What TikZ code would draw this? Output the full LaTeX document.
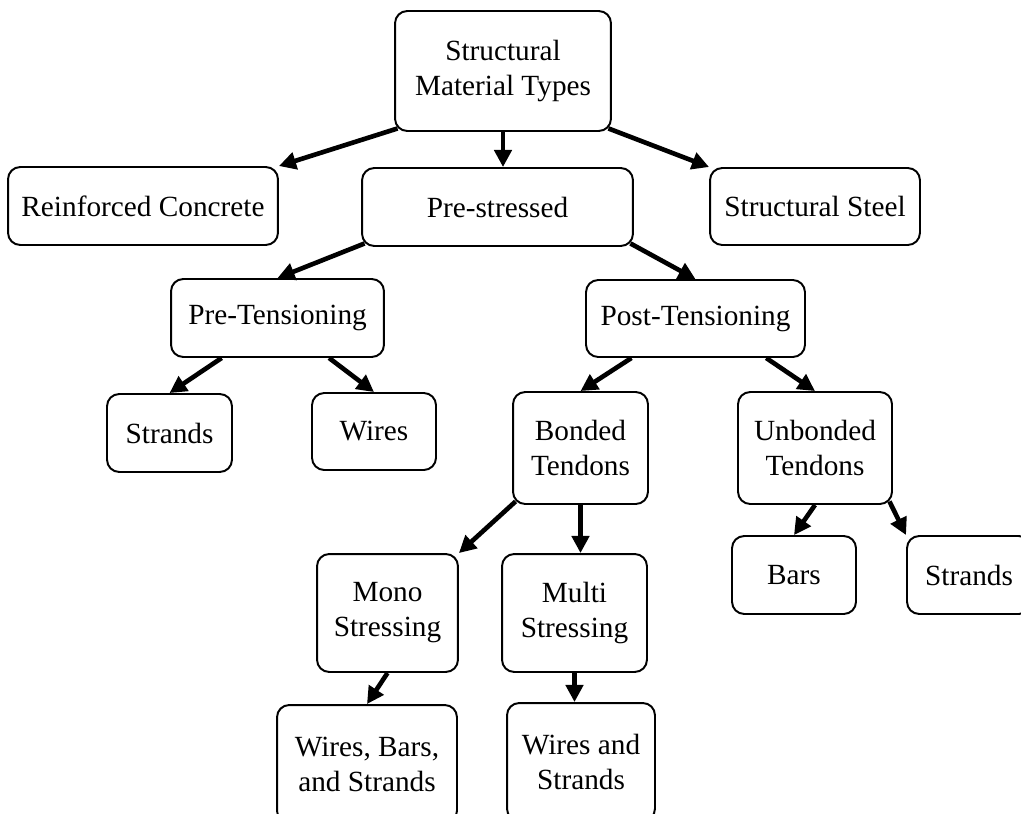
\documentclass[tikz,border=0pt]{standalone}
\usepackage{fontspec}
\setmainfont{Liberation Serif}
\usetikzlibrary{arrows.meta,calc}

\begin{document}
\begin{tikzpicture}[x=0.0144cm, y=-0.0144cm,
    box/.style={draw, line width=0.8pt, rounded corners=5pt, align=center,
      font=\fontsize{12}{14.3}\selectfont, inner sep=0pt},
    arr/.style={line width=1.9pt, -{Triangle[length=7pt,width=7pt]}}]
          \useasboundingbox (0,0) rectangle (1021,814);

          % top level
          \node[box, minimum width=3.110cm, minimum height=1.728cm] (root) at (503,71) {Structural\\Material Types};
          \node[box, minimum width=3.888cm, minimum height=1.123cm] (rc) at (143,206) {Reinforced Concrete};
          \node[box, minimum width=3.902cm, minimum height=1.123cm] (ps) at (497.5,207) {Pre-stressed};
          \node[box, minimum width=3.024cm, minimum height=1.109cm] (steel) at (815,206.5) {Structural Steel};

          % pre / post tensioning
          \node[box, minimum width=3.067cm, minimum height=1.123cm] (pt) at (277.5,318) {Pre-Tensioning};
          \node[box, minimum width=3.154cm, minimum height=1.109cm] (post) at (695.5,318.5) {Post-Tensioning};

          \node[box, minimum width=1.800cm, minimum height=1.123cm] (strandsA) at (169.5,433) {Strands};
          \node[box, minimum width=1.786cm, minimum height=1.109cm] (wires) at (374,431.5) {Wires};
          \node[box, minimum width=1.944cm, minimum height=1.613cm] (bonded) at (580.5,448) {Bonded\\Tendons};
          \node[box, minimum width=2.218cm, minimum height=1.613cm] (unbonded) at (815,448) {Unbonded\\Tendons};

          \node[box, minimum width=1.786cm, minimum height=1.123cm] (bars) at (794,575) {Bars};
          \node[box, minimum width=1.786cm, minimum height=1.123cm] (strandsB) at (969,575) {Strands};

          \node[box, minimum width=2.030cm, minimum height=1.699cm] (mono) at (387.5,613) {Mono\\Stressing};
          \node[box, minimum width=2.088cm, minimum height=1.699cm] (multi) at (574.5,613) {Multi\\Stressing};

          \node[box, minimum width=2.592cm, minimum height=1.699cm] (wbs) at (367,764) {Wires, Bars,\\and Strands};
          \node[box, minimum width=2.131cm, minimum height=1.699cm] (ws) at (581,762) {Wires and\\Strands};

          % arrows
          \draw[arr] ($(root.south west)+(3.5,-3.5)$) -- (rc.north east);
          \draw[arr] (root.south) -- (root.south |- ps.north);
          \draw[arr] ($(root.south east)+(-3.5,-3.5)$) -- (steel.north west);

          \draw[arr] ($(ps.south west)+(3.5,-3.5)$) -- (pt.north);
          \draw[arr] ($(ps.south east)+(-3.5,-3.5)$) -- (post.north);

          \draw[arr] ($(pt.south west)!0.24!(pt.south east)$) -- (strandsA.north);
          \draw[arr] ($(pt.south west)!0.74!(pt.south east)$) -- (wires.north);
          \draw[arr] ($(post.south west)!0.21!(post.south east)$) -- (bonded.north);
          \draw[arr] ($(post.south west)!0.82!(post.south east)$) -- (unbonded.north);

          \draw[arr] ($(bonded.south west)+(3.5,-3.5)$) -- (mono.north east);
          \draw[arr] (bonded.south) -- (bonded.south |- multi.north);
          \draw[arr] (unbonded.south) -- (bars.north);
          \draw[arr] ($(unbonded.south east)+(-3.5,-3.5)$) -- (strandsB.north west);

          \draw[arr] (mono.south) -- (wbs.north);
          \draw[arr] (multi.south) -- (multi.south |- ws.north);
        \end{tikzpicture}
\end{document}
